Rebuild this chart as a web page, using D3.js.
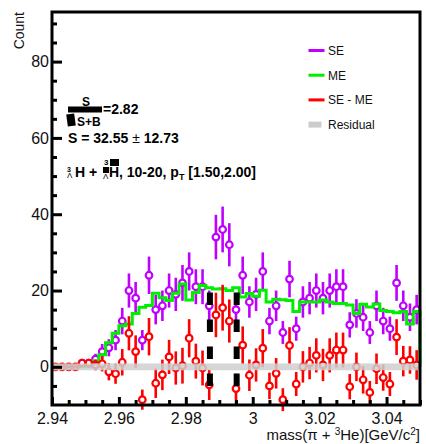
<!DOCTYPE html>
<html>
<head>
<meta charset="utf-8">
<script src="https://cdn.jsdelivr.net/npm/d3@7"></script>
<style>
  body { margin: 0; background: #fff; }
  svg { display: block; font-family: "Liberation Sans", Arial, sans-serif; }
</style>
</head>
<body>
<svg id="chart" width="426" height="444"></svg>
<script>
// bin centres of the invariant mass histogram (GeV/c^2)
const massBins = [2.941, 2.943, 2.945, 2.947, 2.949, 2.951, 2.953, 2.955, 2.957, 2.959,
  2.961, 2.963, 2.965, 2.967, 2.969, 2.971, 2.973, 2.975, 2.977, 2.979,
  2.981, 2.983, 2.985, 2.987, 2.989, 2.991, 2.993, 2.995, 2.997, 2.999,
  3.001, 3.003, 3.005, 3.007, 3.009, 3.011, 3.013, 3.015, 3.017, 3.019,
  3.021, 3.023, 3.025, 3.027, 3.029, 3.031, 3.033, 3.035, 3.037, 3.039,
  3.041, 3.043, 3.045, 3.047, 3.049];

// same event counts
const seCounts = [0, 0, 0, 0, 1, 1, 2, 4, 5, 7,
  12, 20, 18, 7, 24, 15, 16, 20, 19, 22,
  25, 21, 21, 16, 34, 36, 32, 15, 24, 17,
  19, 25, 12, 16, 9, 23, 10, 17, 18, 20,
  18, 20, 21, 21, 11, 14, 13, 9, 16, 12,
  10, 22, 16, 13, 15];

// mixed event (normalised)
const meCounts = [0, 0, 0, 0, 0, 0, 1.5, 3.2, 6.3, 8.8,
  10.8, 11.2, 14, 15.6, 16.1, 19.3, 18.1, 17.4, 19.3, 21.7,
  17.5, 19.5, 21.3, 20.7, 20.4, 20.5, 20, 20.7, 18.3, 19.2,
  18.5, 20.1, 17, 17.7, 17.6, 17.4, 14.5, 17, 17, 17,
  17.5, 17, 16.6, 16.6, 16.2, 14, 16.4, 15.7, 16.5, 14.8,
  14.5, 14.2, 14.5, 11.2, 14.5];

// SE - ME
const subCounts = [0, 0, 0, 0, 1, 1, 0.5, 0.8, -1.3, -1.8,
  1.2, 8.8, 4, -8.6, 7.9, -4.3, -2.1, 2.6, -0.3, 0.3,
  7.5, 1.5, -0.3, -4.7, 13.6, 15.5, 12, -5.7, 5.7, -2.2,
  0.5, 4.9, -5, -1.7, -8.6, 5.6, -4.5, 0, 1, 3,
  0.5, 3, 4.4, 4.4, -5.2, 0, -3.4, -6.7, -0.5, -2.8,
  -4.5, 7.8, 1.5, 1.8, 0.5];

const binWidth = 0.002;
const xTicks = [2.94, 2.96, 2.98, 3.00, 3.02, 3.04];
const yTicks = [0, 20, 40, 60, 80];
const signalWindow = [2.9872, 2.9952];
const windowRange = [-5.6, 19.5];

const legendItems = [
  {label: "SE", color: "#c000ff", type: "line"},
  {label: "ME", color: "#00ee00", type: "line"},
  {label: "SE - ME", color: "#ff0000", type: "line"},
  {label: "Residual", color: "#cccccc", type: "box"}
];

const svg = d3.select("#chart");
const pLeft = 52, pRight = 420, pTop = 12, pBottom = 405;

const x = d3.scaleLinear().domain([2.94, 3.05]).range([pLeft, pRight]);
const y = d3.scaleLinear().domain([-10, 93]).range([pBottom, pTop]);

const purple = "#c000ff", green = "#00ee00", red = "#ff0000";

// draw points with split error bars (open circle markers)
const drawPoints = (vals, color, skipEmpty) => {
  const g = svg.append("g");
  const r = 3.3;
  vals.forEach((v, i) => {
    if (skipEmpty && v === 0) return;
    const cx = x(massBins[i]);
    const cy = y(v);
    const err = Math.sqrt(seCounts[i]);
    const yHi = y(v + err), yLo = y(v - err);
    if (cy - r - yHi > 0) {
      g.append("line").attr("x1", cx).attr("x2", cx).attr("y1", yHi).attr("y2", cy - r)
        .attr("stroke", color).attr("stroke-width", 2.6);
    }
    if (yLo - (cy + r) > 0) {
      g.append("line").attr("x1", cx).attr("x2", cx).attr("y1", cy + r).attr("y2", yLo)
        .attr("stroke", color).attr("stroke-width", 2.6);
    }
    if (err === 0) {
      g.append("line").attr("x1", x(massBins[i] - binWidth / 2)).attr("x2", x(massBins[i] + binWidth / 2))
        .attr("y1", cy).attr("y2", cy).attr("stroke", color).attr("stroke-width", 2.6);
    }
    g.append("circle").attr("cx", cx).attr("cy", cy).attr("r", r)
      .attr("fill", "none").attr("stroke", color).attr("stroke-width", 2.2);
  });
};

// SE points
drawPoints(seCounts, purple, true);

// ME step histogram
const stepPts = [];
meCounts.forEach((v, i) => {
  stepPts.push([x(massBins[i] - binWidth / 2), y(v)]);
  stepPts.push([x(massBins[i] + binWidth / 2), y(v)]);
});
stepPts.push([x(3.05), y(0)]);
svg.append("path")
  .attr("d", d3.line()(stepPts))
  .attr("fill", "none").attr("stroke", green).attr("stroke-width", 3);

// SE - ME points
drawPoints(subCounts, red, false);

// residual band around zero
svg.append("rect")
  .attr("x", x(2.94)).attr("width", x(3.05) - x(2.94))
  .attr("y", y(0.9)).attr("height", y(-0.9) - y(0.9))
  .attr("fill", "#cfcfcf").attr("opacity", 0.85);

// signal window (dashed)
signalWindow.forEach(m => {
  svg.append("line")
    .attr("x1", x(m)).attr("x2", x(m))
    .attr("y1", y(windowRange[1])).attr("y2", y(windowRange[0]))
    .attr("stroke", "#000").attr("stroke-width", 6)
    .attr("stroke-dasharray", "12.5,14.5");
});

// axes
const yMinor = d3.range(-5, 93, 5).filter(d => d % 20 !== 0);
const xMinor = d3.range(0, 23).map(i => 2.94 + i * 0.005).filter((d, i) => i % 4 !== 0);

svg.append("g").attr("transform", `translate(${pLeft},0)`)
  .call(d3.axisLeft(y).tickValues(yTicks).tickSize(-10).tickPadding(3));
svg.append("g").attr("transform", `translate(${pLeft},0)`)
  .call(d3.axisLeft(y).tickValues(yMinor).tickSize(-5).tickFormat(""));
svg.append("g").attr("transform", `translate(0,${pBottom})`)
  .call(d3.axisBottom(x).tickValues(xTicks).tickSize(-8).tickPadding(7.5)
    .tickFormat(d => String(+d.toFixed(2))));
svg.append("g").attr("transform", `translate(0,${pBottom})`)
  .call(d3.axisBottom(x).tickValues(xMinor).tickSize(-5).tickFormat(""));

svg.selectAll(".domain").remove();
svg.selectAll(".tick line").attr("stroke", "#000").attr("stroke-width", 3);
svg.selectAll(".tick text").attr("font-size", 16).attr("fill", "#111")
  .attr("font-family", "Liberation Sans, Arial, sans-serif");

// frame
svg.append("rect").attr("x", pLeft).attr("y", pTop)
  .attr("width", pRight - pLeft).attr("height", pBottom - pTop)
  .attr("fill", "none").attr("stroke", "#000").attr("stroke-width", 3);

// axis titles
svg.append("text").attr("transform", "translate(24,12) rotate(-90)")
  .attr("text-anchor", "end").attr("font-size", 14).attr("fill", "#111").text("Count");

const xt = svg.append("text").attr("x", 420).attr("y", 440)
  .attr("text-anchor", "end").attr("font-size", 15).attr("fill", "#111");
xt.append("tspan").text("mass(\u03c0 + ");
xt.append("tspan").attr("font-size", 10).attr("dy", -5.5).text("3");
xt.append("tspan").attr("dy", 5.5).text("He)[GeV/c");
xt.append("tspan").attr("font-size", 10).attr("dy", -5.5).text("2");
xt.append("tspan").attr("dy", 5.5).text("]");

// legend
const lg = svg.append("g");
legendItems.forEach((d, i) => {
  const ly = 50.5 + i * 24.7;
  if (d.type === "line") {
    lg.append("line").attr("x1", 308.5).attr("x2", 324.5).attr("y1", ly).attr("y2", ly)
      .attr("stroke", d.color).attr("stroke-width", 3);
  } else {
    lg.append("rect").attr("x", 308.5).attr("y", ly - 3).attr("width", 13).attr("height", 6)
      .attr("fill", d.color);
  }
  lg.append("text").attr("x", 328).attr("y", ly + 4.3).attr("font-size", 12)
    .attr("fill", "#111").text(d.label);
});

// fit / significance text
const tb = svg.append("g").attr("font-weight", "bold").attr("fill", "#000");
tb.append("rect").attr("x", 68).attr("y", 106.5).attr("width", 34).attr("height", 6);
tb.append("rect").attr("x", 67).attr("y", 114).attr("width", 8).attr("height", 12)
  .attr("transform", "rotate(-8,71,120)");
tb.append("text").attr("x", 86).attr("y", 106).attr("text-anchor", "middle")
  .attr("font-size", 12).text("S");
tb.append("text").attr("x", 103).attr("y", 114).attr("font-size", 14).text("=2.82");
tb.append("text").attr("x", 77).attr("y", 125.5).attr("font-size", 12).text("S+B");
const sl = tb.append("text").attr("x", 68).attr("y", 143).attr("font-size", 14);
sl.append("tspan").text("S = 32.55 ");
sl.append("tspan").attr("font-weight", "normal").text("\u00b1");
sl.append("tspan").text(" 12.73");

// hypertriton label line
tb.append("text").attr("x", 67).attr("y", 171.5).attr("font-size", 7).text("3");
tb.append("text").attr("x", 67).attr("y", 178).attr("font-size", 8).attr("font-weight", "normal").text("\u039b");
tb.append("text").attr("x", 75).attr("y", 176.5).attr("font-size", 14).text("H + ");
tb.append("text").attr("x", 104).attr("y", 165).attr("font-size", 8).text("3");
tb.append("rect").attr("x", 103).attr("y", 167).attr("width", 6).attr("height", 6);
tb.append("text").attr("x", 103).attr("y", 178.5).attr("font-size", 8).attr("font-weight", "normal").text("\u039b");
tb.append("text").attr("x", 109).attr("y", 176.5).attr("font-size", 14).text("H");
tb.append("rect").attr("x", 110).attr("y", 159).attr("width", 9).attr("height", 7);
const pl = tb.append("text").attr("x", 119).attr("y", 176.5).attr("font-size", 14);
pl.append("tspan").text(", 10-20, p");
pl.append("tspan").attr("font-size", 9).attr("dy", 3.5).text("T");
pl.append("tspan").attr("dy", -3.5).text(" [1.50,2.00]");
</script>
</body>
</html>
